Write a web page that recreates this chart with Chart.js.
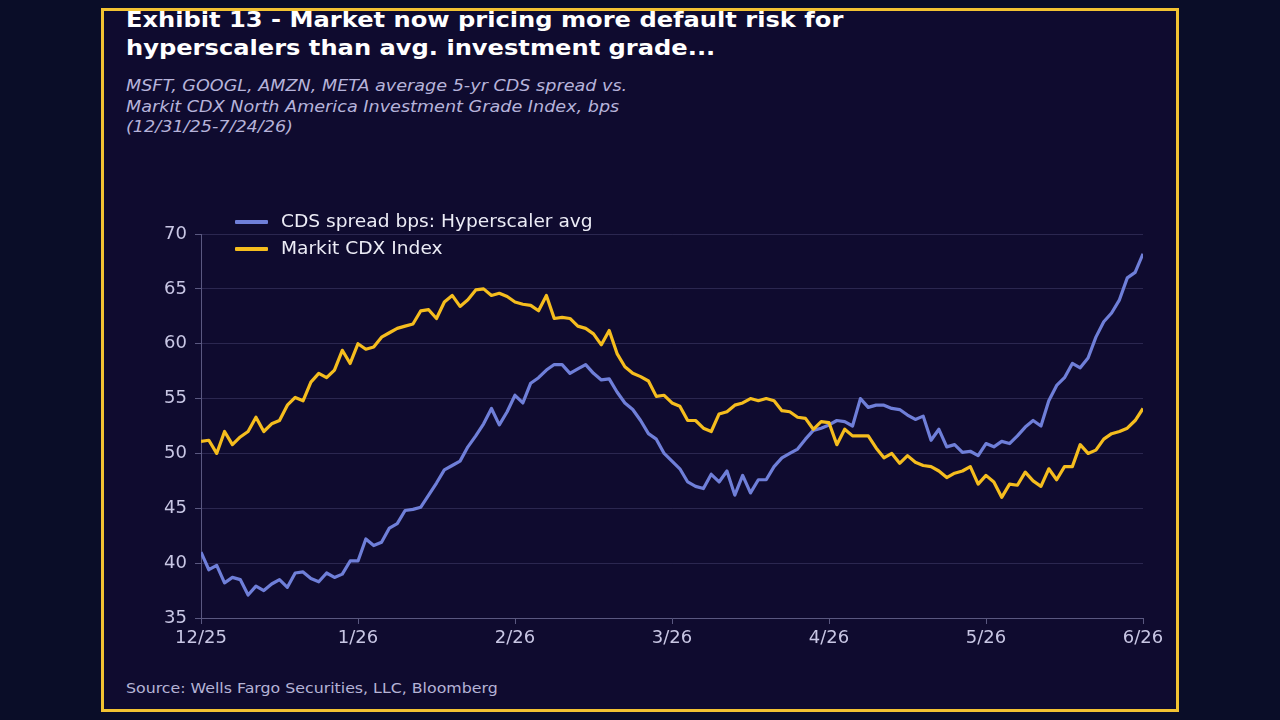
<!DOCTYPE html>
<html>
<head>
<meta charset="utf-8">
<script src="https://cdn.jsdelivr.net/npm/chart.js@4.4.1/dist/chart.umd.min.js"></script>
<style>
    html, body { margin: 0; padding: 0; }
    body {
        width: 1280px; height: 720px; overflow: hidden;
        background: #0a0d28;
        font-family: "DejaVu Sans", sans-serif;
        position: relative;
    }
    .frame {
        position: absolute; left: 101px; top: 8px; width: 1072px; height: 698px;
        border: 3px solid #f2c232;
        background: #0f0b2f;
    }
    .title {
        position: absolute; left: 126px; top: 6px;
        color: #ffffff; font-weight: bold; font-size: 21px; line-height: 28px;
        transform: scaleX(1.15); transform-origin: left top; white-space: nowrap;
    }
    .subtitle {
        position: absolute; left: 126px; top: 76px;
        color: #b6b3da; font-style: italic; font-size: 16px; line-height: 20.5px;
        transform: scaleX(1.1); transform-origin: left top; white-space: nowrap;
    }
    .legend {
        position: absolute; left: 235px; top: 208px;
        color: #ececf6; font-size: 17px;
    }
    .legend div { height: 27px; line-height: 27px; display: flex; align-items: center; }
    .legend span.sw { display: inline-block; width: 33px; height: 4px; margin-right: 13px; border-radius: 1px; }
    .legend span.tx { display: inline-block; transform: scaleX(1.095); transform-origin: left center; white-space: nowrap; }
    .source {
        position: absolute; left: 126px; top: 680px;
        color: #b5b3d6; font-size: 14px;
        transform: scaleX(1.128); transform-origin: left top; white-space: nowrap;
    }
    #wrap { position: absolute; left: 110px; top: 200px; width: 1060px; height: 460px; }
</style>
</head>
<body>
<div class="frame"></div>
<div class="title">Exhibit 13 - Market now pricing more default risk for<br>hyperscalers than avg. investment grade...</div>
<div class="subtitle">MSFT, GOOGL, AMZN, META average 5-yr CDS spread vs.<br>Markit CDX North America Investment Grade Index, bps<br>(12/31/25-7/24/26)</div>
<div id="wrap"><canvas id="cdsChart"></canvas></div>
<div class="legend">
    <div><span class="sw" style="background:#6f7fd9"></span><span class="tx">CDS spread bps: Hyperscaler avg</span></div>
    <div><span class="sw" style="background:#f5bd1e"></span><span class="tx">Markit CDX Index</span></div>
</div>
<div class="source">Source: Wells Fargo Securities, LLC, Bloomberg</div>

<script>
// x tick labels, one every 20 observations
const monthLabels = ['12/25', '1/26', '2/26', '3/26', '4/26', '5/26', '6/26'];

// hyperscaler average 5-yr CDS, bps
const hyperscalerCds = [
    41.0, 39.4, 39.8, 38.2, 38.7, 38.5, 37.1, 37.9, 37.5, 38.1, 38.5, 37.8, 39.1, 39.2, 38.6, 38.3, 39.1, 38.7, 39.0, 40.2, 40.2,
    42.2, 41.6, 41.9, 43.2, 43.6, 44.8, 44.9, 45.1, 46.2, 47.3, 48.5, 48.9, 49.3, 50.6, 51.6, 52.7, 54.1, 52.6, 53.8, 55.3,
    54.6, 56.4, 56.9, 57.6, 58.1, 58.1, 57.3, 57.7, 58.1, 57.3, 56.7, 56.8, 55.6, 54.6, 54.0, 53.0, 51.8, 51.3, 50.0, 49.3,
    48.6, 47.4, 47.0, 46.8, 48.1, 47.4, 48.4, 46.2, 48.0, 46.4, 47.6, 47.6, 48.8, 49.6, 50.0, 50.4, 51.3, 52.1, 52.3, 52.6,
    53.0, 52.9, 52.5, 55.0, 54.2, 54.4, 54.4, 54.1, 54.0, 53.5, 53.1, 53.4, 51.2, 52.2, 50.6, 50.8, 50.1, 50.2, 49.8, 50.9,
    50.6, 51.1, 50.9, 51.6, 52.4, 53.0, 52.5, 54.8, 56.2, 56.9, 58.2, 57.8, 58.7, 60.6, 62.0, 62.8, 64.0, 66.0, 66.5, 68.2
];

// Markit CDX NA IG index, bps
const markitCdx = [
    51.1, 51.2, 50.0, 52.0, 50.8, 51.5, 52.0, 53.3, 52.0, 52.7, 53.0, 54.4, 55.1, 54.8, 56.5, 57.3, 56.9, 57.6, 59.4, 58.2, 60.0,
    59.5, 59.7, 60.6, 61.0, 61.4, 61.6, 61.8, 63.0, 63.1, 62.3, 63.8, 64.4, 63.4, 64.0, 64.9, 65.0, 64.4, 64.6, 64.3, 63.8,
    63.6, 63.5, 63.0, 64.4, 62.3, 62.4, 62.3, 61.6, 61.4, 60.9, 59.9, 61.2, 59.1, 57.9, 57.3, 57.0, 56.6, 55.2, 55.3, 54.6,
    54.3, 53.0, 53.0, 52.3, 52.0, 53.6, 53.8, 54.4, 54.6, 55.0, 54.8, 55.0, 54.8, 53.9, 53.8, 53.3, 53.2, 52.2, 52.9, 52.8,
    50.8, 52.2, 51.6, 51.6, 51.6, 50.5, 49.6, 50.0, 49.1, 49.8, 49.2, 48.9, 48.8, 48.4, 47.8, 48.2, 48.4, 48.8, 47.2, 48.0,
    47.4, 46.0, 47.2, 47.1, 48.3, 47.5, 47.0, 48.6, 47.6, 48.8, 48.8, 50.8, 50.0, 50.3, 51.3, 51.8, 52.0, 52.3, 53.0, 54.1
];

const pointsPerMonth = 20;

function toPoints(values) {
    return values.map((v, i) => ({ x: i, y: v }));
}

const tickColor = '#c8c6e4';
const axisColor = '#5a5880';

const ctx = document.getElementById('cdsChart').getContext('2d');
const cdsChart = new Chart(ctx, {
    type: 'line',
    data: {
        datasets: [{
            label: 'CDS spread bps: Hyperscaler avg',
            data: toPoints(hyperscalerCds),
            borderColor: '#6f7fd9',
            borderWidth: 3.2,
            pointRadius: 0,
            tension: 0,
            borderJoinStyle: 'round',
            order: 2
        }, {
            label: 'Markit CDX Index',
            data: toPoints(markitCdx),
            borderColor: '#f5bd1e',
            borderWidth: 3.2,
            pointRadius: 0,
            tension: 0,
            borderJoinStyle: 'round',
            order: 1
        }]
    },
    options: {
        responsive: true,
        maintainAspectRatio: false,
        animation: false,
        layout: { padding: { top: 34, right: 27, left: 0, bottom: 0 } },
        plugins: {
            legend: { display: false },
            tooltip: { enabled: false }
        },
        scales: {
            x: {
                type: 'linear',
                min: 0,
                max: (monthLabels.length - 1) * pointsPerMonth,
                afterFit: (scale) => { scale.height = 42; },
                ticks: {
                    stepSize: pointsPerMonth,
                    color: tickColor,
                    font: { family: 'DejaVu Sans', size: 18 },
                    maxRotation: 0,
                    padding: 4,
                    callback: (v) => monthLabels[v / pointsPerMonth]
                },
                grid: { drawOnChartArea: false, drawTicks: true, tickLength: 6, tickColor: axisColor, color: axisColor },
                border: { color: axisColor, width: 1 }
            },
            y: {
                min: 35,
                max: 70,
                afterFit: (scale) => { scale.width = 91; },
                ticks: {
                    stepSize: 5,
                    color: tickColor,
                    font: { family: 'DejaVu Sans', size: 18 },
                    padding: 8
                },
                grid: { color: 'rgba(120, 115, 170, 0.28)', lineWidth: 1, tickLength: 6, tickColor: axisColor },
                border: { color: axisColor, width: 1 }
            }
        }
    }
});
</script>
</body>
</html>
